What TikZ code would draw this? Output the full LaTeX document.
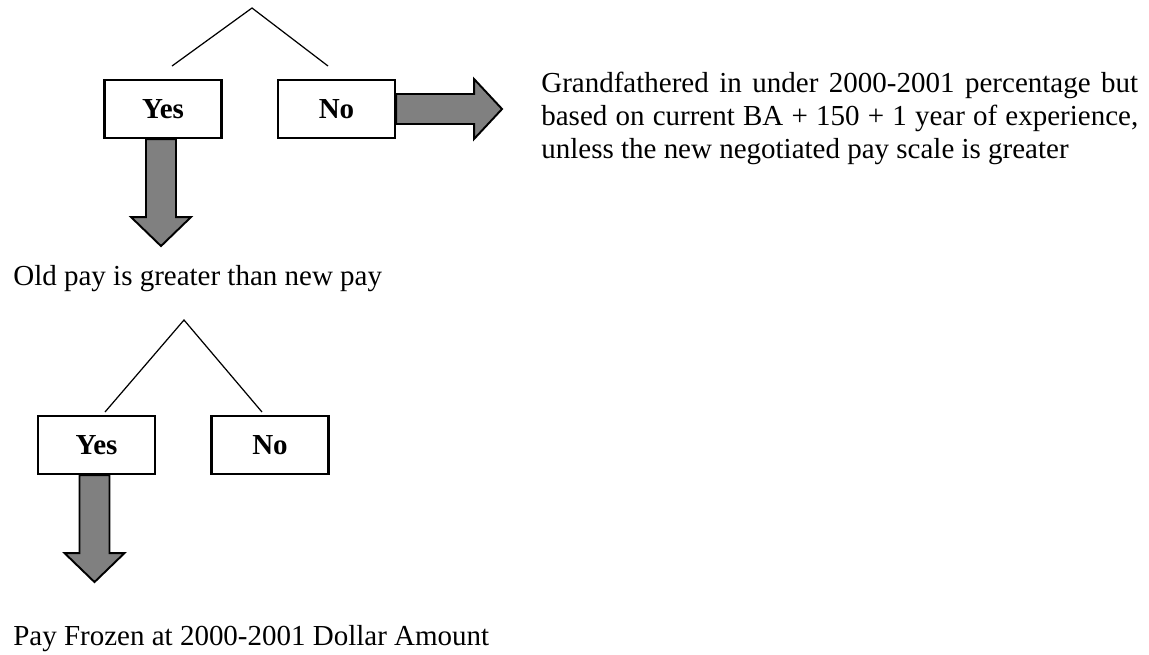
\documentclass[tikz,border=0pt]{standalone}
\usepackage{fontspec}
\setmainfont{Liberation Serif}
\usepackage{tikz}
\usetikzlibrary{calc}
\newcommand{\figfont}{\fontsize{16.5}{18.8}\selectfont}
\tikzstyle{choice}=[rectangle, draw, line width=1.2pt,
minimum width=2.34cm, minimum height=1.16cm, inner sep=0pt, font=\figfont\bfseries]
\tikzstyle{fatarrow}=[draw, line width=1.1pt, fill=gray, line join=miter]
\tikzstyle{branch}=[line width=0.7pt]
\tikzstyle{note}=[inner sep=0pt, anchor=base west]

\begin{document}
\begin{tikzpicture}[x=0.02cm, y=-0.02cm, font=\figfont]
\useasboundingbox (0,0) rectangle (1149,654);
%first question
\coordinate (top1) at (252,8);
\coordinate (l1) at (172,66);
\coordinate (r1) at (328,66);
\node[choice] (yes1) at (163,109) {Yes};
\node[choice] (no1) at (336.5,109) {No};
\draw[branch] (l1) -- (top1) -- (r1);
\draw[fatarrow] ([xshift=-0.34cm]yes1.south) -- ++(0,78) -- ++(-15,0) -- ++(30,29)
  -- ++(30,-29) -- ++(-15,0) -- ++(0,-78) -- cycle;
\draw[fatarrow] ([yshift=0.3cm]no1.east) -- ++(78,0) -- ++(0,-15) -- ++(28,30)
  -- ++(-28,30) -- ++(0,-15) -- ++(-78,0) -- cycle;
\node[note] (grand) at (541,92) {\parbox[t]{11.94cm}{Grandfathered in under 2000-2001 percentage but\linebreak
based on current BA + 150 + 1 year of experience,\linebreak
unless the new negotiated pay scale is greater}};
\node[note] (oldpay) at (13,285) {Old pay is greater than new pay};
%second question
\coordinate (top2) at (184,320);
\coordinate (l2) at (105,412);
\coordinate (r2) at (262,412);
\node[choice] (yes2) at (96.5,445) {Yes};
\node[choice] (no2) at (270,445) {No};
\draw[branch] (l2) -- (top2) -- (r2);
\draw[fatarrow] ([xshift=-0.34cm]yes2.south) -- ++(0,78) -- ++(-15,0) -- ++(30,29)
  -- ++(30,-29) -- ++(-15,0) -- ++(0,-78) -- cycle;
\node[note] (frozen) at (13,645) {Pay Frozen at 2000-2001 Dollar Amount};
\end{tikzpicture}
\end{document}
